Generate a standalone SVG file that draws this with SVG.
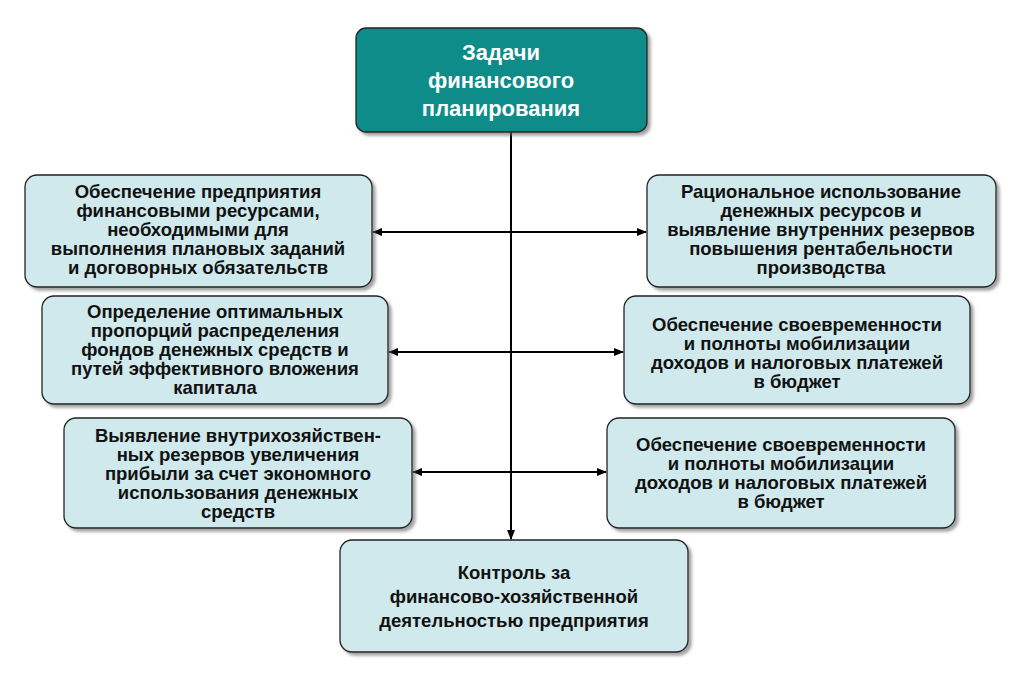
<svg xmlns="http://www.w3.org/2000/svg" width="1022" height="679" viewBox="0 0 1022 679">
<defs>
<marker id="a" markerWidth="10" markerHeight="10" refX="9" refY="5" orient="auto-start-reverse" markerUnits="userSpaceOnUse"><path d="M0,1 L10,5 L0,9 Z" fill="#000"/></marker>
<filter id="s" x="-5%" y="-5%" width="115%" height="120%"><feDropShadow dx="3" dy="3" stdDeviation="1.5" flood-color="#666" flood-opacity="0.6"/></filter>
</defs>
<style>
.b{fill:#cfe9ec;stroke:#222;stroke-width:1.3;filter:url(#s)}
.h{fill:#0b8c89;stroke:#222;stroke-width:1.3;filter:url(#s)}
text{font-family:"Liberation Sans",Arial,sans-serif;font-weight:bold;font-size:18.5px;text-anchor:middle;fill:#111}
.w{fill:#fff;font-size:22px}
.c line{stroke:#000;stroke-width:2}
</style>
<rect width="1022" height="679" fill="#fff"/>
<g class="c">
<line x1="511" y1="132" x2="511" y2="539" marker-end="url(#a)"/>
<line x1="373" y1="232" x2="646" y2="232" marker-start="url(#a)" marker-end="url(#a)"/>
<line x1="389" y1="352" x2="623" y2="352" marker-start="url(#a)" marker-end="url(#a)"/>
<line x1="413" y1="472" x2="606" y2="472" marker-start="url(#a)" marker-end="url(#a)"/>
</g>
<g id="top"><rect class="h" x="356" y="28" width="291" height="104" rx="10"/>
<text class="w" x="501" y="60">Задачи</text><text class="w" x="501" y="88">финансового</text><text class="w" x="501" y="116">планирования</text></g>
<g id="l1"><rect class="b" x="25" y="175" width="347" height="112" rx="12"/>
<text x="198" y="198">Обеспечение предприятия</text><text x="198" y="217">финансовыми ресурсами,</text><text x="198" y="236">необходимыми для</text><text x="198" y="255">выполнения плановых заданий</text><text x="198" y="274">и договорных обязательств</text></g>
<g id="r1"><rect class="b" x="647" y="175" width="349" height="112" rx="12"/>
<text x="821" y="198">Рациональное использование</text><text x="821" y="217">денежных ресурсов и</text><text x="821" y="236">выявление внутренних резервов</text><text x="821" y="255">повышения рентабельности</text><text x="821" y="274">производства</text></g>
<g id="l2"><rect class="b" x="42" y="296" width="346" height="108" rx="12"/>
<text x="215" y="318">Определение оптимальных</text><text x="215" y="337">пропорций распределения</text><text x="215" y="356">фондов денежных средств и</text><text x="215" y="375">путей эффективного вложения</text><text x="215" y="394">капитала</text></g>
<g id="r2"><rect class="b" x="624" y="296" width="346" height="108" rx="12"/>
<text x="797" y="331">Обеспечение своевременности</text><text x="797" y="350">и полноты мобилизации</text><text x="797" y="369">доходов и налоговых платежей</text><text x="797" y="388">в бюджет</text></g>
<g id="l3"><rect class="b" x="64" y="418" width="348" height="110" rx="12"/>
<text x="238" y="442">Выявление внутрихозяйствен-</text><text x="238" y="461">ных резервов увеличения</text><text x="238" y="480">прибыли за счет экономного</text><text x="238" y="499">использования денежных</text><text x="238" y="518">средств</text></g>
<g id="r3"><rect class="b" x="607" y="418" width="348" height="110" rx="12"/>
<text x="781" y="451">Обеспечение своевременности</text><text x="781" y="470">и полноты мобилизации</text><text x="781" y="489">доходов и налоговых платежей</text><text x="781" y="508">в бюджет</text></g>
<g id="bot"><rect class="b" x="340" y="540" width="348" height="112" rx="12"/>
<text x="514" y="579">Контроль за</text><text x="514" y="603">финансово-хозяйственной</text><text x="514" y="627">деятельностью предприятия</text></g>
</svg>
